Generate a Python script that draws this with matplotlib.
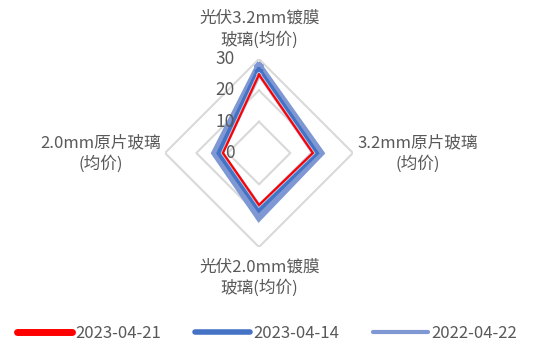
import numpy as np
import matplotlib.pyplot as plt
from matplotlib.lines import Line2D
from matplotlib.transforms import ScaledTranslation

plt.rcParams['font.family'] = ['Noto Sans CJK SC', 'DejaVu Sans']

categories = ['光伏3.2mm镀膜\n玻璃(均价)', '3.2mm原片玻璃\n(均价)',
              '光伏2.0mm镀膜\n玻璃(均价)', '2.0mm原片玻璃\n(均价)']
series_names = ['2023-04-21', '2023-04-14', '2022-04-22']
v_20230421 = [25.0, 17.2, 16.6, 11.5]
v_20230414 = [26.0, 17.9, 17.6, 12.4]
v_20220422 = [27.6, 19.6, 20.4, 14.0]
r_ticks = [0, 10, 20, 30]

text_color = '#595959'
grid_color = '#d9d9d9'

fig = plt.figure(figsize=(5.34, 3.45), dpi=100)
ax = fig.add_axes([0.309, 0.284, 0.352, 0.545], projection='polar')
ax.set_theta_zero_location('N')
ax.set_theta_direction(-1)
ax.set_ylim(0, 30)
ax.grid(False)
ax.spines['polar'].set_visible(False)
ax.set_xticks([])
ax.set_yticks([])
ax.patch.set_alpha(0)

n = len(categories)
theta = np.linspace(0, 2 * np.pi, n, endpoint=False)
theta_c = np.append(theta, theta[0])

# diamond grid
for r in r_ticks[1:]:
    ax.plot(theta_c, [r] * (n + 1), color=grid_color, lw=1.5, zorder=1)

def closed(v):
    return np.append(v, v[0])

ax.plot(theta_c, closed(v_20220422), color='#7f98d4', lw=5.5, zorder=2,
        solid_joinstyle='miter')
ax.plot(theta_c, closed(v_20230414), color='#4472c4', lw=5, zorder=3,
        solid_joinstyle='miter')
ax.plot(theta_c, closed(v_20230421), color='white', lw=3, zorder=4,
        solid_joinstyle='miter', alpha=0.6)
ax.plot(theta_c, closed(v_20230421), color='#ff0000', lw=1.6, zorder=5,
        solid_joinstyle='miter')

# radial tick labels along the top spoke
shift = ax.transData + ScaledTranslation(-0.24, 0, fig.dpi_scale_trans)
for r in r_ticks:
    ax.text(0, r, str(r), ha='right', va='center', fontsize=12.5,
            color=text_color, zorder=6, transform=shift)

# category labels
pos = [(0.486, 0.915), (0.783, 0.555), (0.486, 0.195), (0.188, 0.555)]
for lab, (x, y) in zip(categories, pos):
    fig.text(x, y, lab, ha='center', va='center', fontsize=12,
             color=text_color, linespacing=1.3)

handles = [Line2D([], [], color='#ff0000', lw=5, solid_capstyle='round'),
           Line2D([], [], color='#4472c4', lw=4, solid_capstyle='round'),
           Line2D([], [], color='#7f98d4', lw=3, solid_capstyle='round')]
leg = fig.legend(handles, series_names, loc='lower center', ncol=3,
                 bbox_to_anchor=(0.5, -0.035), frameon=False, fontsize=12,
                 handlelength=3.3, handletextpad=0.2, columnspacing=2.0)
for t in leg.get_texts():
    t.set_color(text_color)

fig.savefig('out.png', dpi=100)
